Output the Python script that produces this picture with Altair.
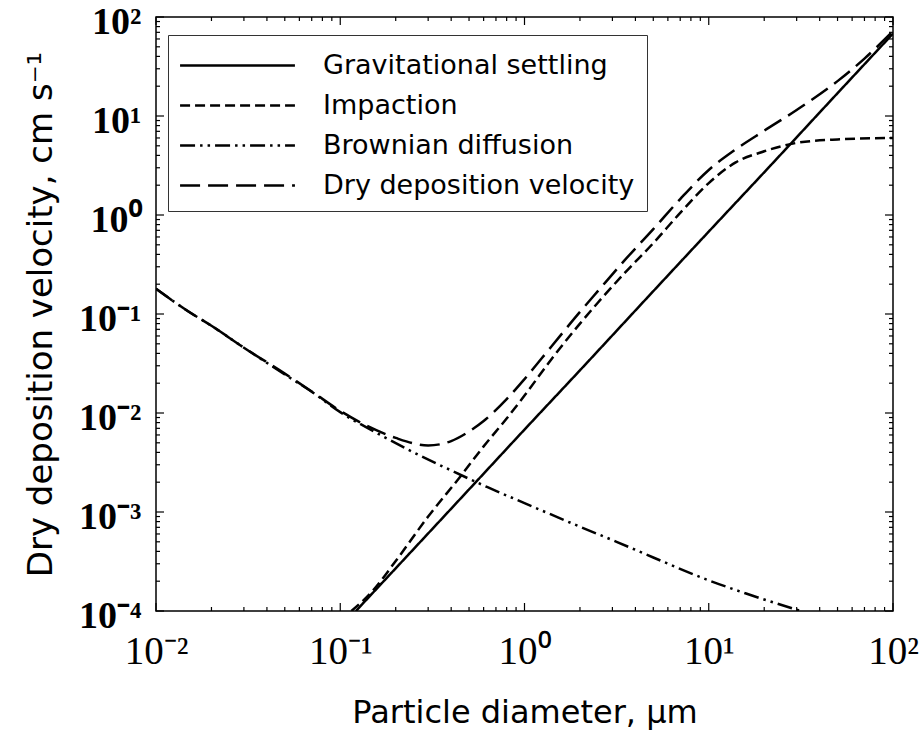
import altair as alt
import pandas as pd

# ---------------- data ----------------
series_names = ["Gravitational settling", "Impaction", "Brownian diffusion", "Dry deposition velocity"]
dash_patterns = [[1, 0], [10, 5], [15, 5, 2.5, 5, 2.5, 5], [20, 8]]

grav_d = [0.1216, 0.2, 0.5, 1.0, 2.0, 5.0, 10.0, 20.0, 50.0, 100.0]
grav_v = [1.0e-4, 2.7e-4, 1.69e-3, 6.8e-3, 0.027, 0.17, 0.68, 2.7, 17.0, 68.0]

imp_d = [0.115, 0.15, 0.2, 0.3, 0.45, 0.6, 0.8, 1.0, 1.4, 2.0, 2.5, 3.5, 5.0, 7.0, 10.0, 14.0, 20.0, 30.0, 50.0, 100.0]
imp_v = [1.0e-4, 1.6e-4, 3.2e-4, 9.0e-4, 2.3e-3, 4.6e-3, 8.8e-3, 0.015, 0.035, 0.08, 0.13, 0.26, 0.52, 1.05, 2.1, 3.4, 4.4, 5.35, 5.8, 6.0]

brown_d = [0.01, 0.015, 0.02, 0.03, 0.05, 0.07, 0.1, 0.16, 0.25, 0.4, 0.63, 1.0, 2.0, 3.16, 5.0, 10.0, 15.8, 31.6]
brown_v = [0.18, 0.106, 0.076, 0.0457, 0.0245, 0.0164, 0.0102, 6.2e-3, 4.0e-3, 2.63e-3, 1.78e-3, 1.23e-3, 7.1e-4, 5.0e-4, 3.47e-4, 2.04e-4, 1.51e-4, 1.0e-4]

dry_d = [0.01, 0.015, 0.02, 0.03, 0.05, 0.07, 0.1, 0.14, 0.2, 0.3, 0.4, 0.5, 0.6, 0.8, 1.0, 1.4, 2.0, 2.5, 3.5, 5.0, 7.0, 10.0, 14.0, 20.0, 30.0, 50.0, 70.0, 100.0]
dry_v = [0.18, 0.106, 0.076, 0.0457, 0.025, 0.0165, 0.0105, 0.0074, 0.0056, 0.0047, 0.0052, 0.0065, 0.0083, 0.0138, 0.022, 0.047, 0.105, 0.17, 0.35, 0.72, 1.45, 2.85, 4.6, 7.1, 11.5, 22.5, 38.0, 72.0]

x_major = [0.01, 0.1, 1.0, 10.0, 100.0]
x_major_labels = ["10⁻²", "10⁻¹", "10⁰", "10¹", "10²"]
y_major = [0.0001, 0.001, 0.01, 0.1, 1.0, 10.0, 100.0]
y_major_labels = ["10⁻⁴", "10⁻³", "10⁻²", "10⁻¹", "10⁰", "10¹", "10²"]
x_minor = [round(k * 10.0 ** e, 8) for e in range(-2, 2) for k in range(2, 10)]
y_minor = [round(k * 10.0 ** e, 8) for e in range(-4, 2) for k in range(2, 10)]

x_title = "Particle diameter, μm"
y_title = "Dry deposition velocity, cm s⁻¹"

# ---------------- tables ----------------
rows = []
for name, ds, vs in [
    (series_names[0], grav_d, grav_v),
    (series_names[1], imp_d, imp_v),
    (series_names[2], brown_d, brown_v),
    (series_names[3], dry_d, dry_v),
]:
    for d, v in zip(ds, vs):
        rows.append({"series": name, "d": d, "v": v})
df = pd.DataFrame(rows)

xmaj_df = pd.DataFrame({"t": x_major})
xmin_df = pd.DataFrame({"t": x_minor})
ymaj_df = pd.DataFrame({"t": y_major})
ymin_df = pd.DataFrame({"t": y_minor})


def label_expr(vals, labs):
    parts = [f"datum.value == {v} ? '{l}'" for v, l in zip(vals, labs)]
    return " : ".join(parts) + " : ''"


W, H = 737, 594
MAJ, MIN = 8, 4

xscale = alt.Scale(type="log", domain=[0.01, 100], nice=False)
yscale = alt.Scale(type="log", domain=[0.0001, 100], nice=False)
dash_scale = alt.Scale(domain=series_names, range=dash_patterns)

legend = alt.Legend(
    title=None, orient="none", legendX=12, legendY=18,
    symbolType="M-3.33,0H3.33", symbolSize=1190, symbolStrokeWidth=2.5,
    symbolStrokeColor="black", symbolOffset=39, labelOffset=67,
    labelFont="DejaVu Sans", labelFontSize=27, labelColor="black", labelLimit=0,
    padding=12, strokeColor="#333333", fillColor="white", rowPadding=8,
)

x_axis = alt.Axis(values=x_major, labelExpr=label_expr(x_major, x_major_labels),
                  ticks=False, tickSize=0, domain=False, grid=False,
                  labelPadding=21, labelFlush=False, labelOverlap=False,
                  labelFont="Liberation Serif", labelFontSize=39, labelColor="black",
                  title=x_title, titleFont="DejaVu Sans", titleFontSize=32, titleFontWeight="normal",
                  titleColor="black", titlePadding=26)
y_axis = alt.Axis(values=y_major, labelExpr=label_expr(y_major, y_major_labels),
                  ticks=False, tickSize=0, domain=False, grid=False,
                  labelPadding=15, labelFlush=False, labelOverlap=False, labelOffset=5,
                  labelFont="Liberation Serif", labelFontSize=38, labelFontWeight="bold",
                  labelColor="black",
                  title=y_title, titleFont="DejaVu Sans", titleFontSize=34, titleFontWeight="normal",
                  titleColor="black", titlePadding=20)

lines = (
    alt.Chart(df)
    .mark_line(color="black", strokeWidth=2.5, clip=True, interpolate="monotone")
    .encode(
        x=alt.X("d:Q", scale=xscale, axis=x_axis),
        y=alt.Y("v:Q", scale=yscale, axis=y_axis),
        strokeDash=alt.StrokeDash("series:N", scale=dash_scale, legend=legend),
        detail="series:N",
    )
)


def xticks(data, length):
    base = alt.Chart(data).mark_rule(color="black", strokeWidth=1.2)
    xenc = alt.X("t:Q", scale=xscale, axis=None)
    bottom = base.encode(x=xenc, y=alt.value(H), y2=alt.value(H - length))
    top = base.encode(x=xenc, y=alt.value(0), y2=alt.value(length))
    return [bottom, top]


def yticks(data, length):
    base = alt.Chart(data).mark_rule(color="black", strokeWidth=1.2)
    yenc = alt.Y("t:Q", scale=yscale, axis=None)
    left = base.encode(y=yenc, x=alt.value(0), x2=alt.value(length))
    right = base.encode(y=yenc, x=alt.value(W), x2=alt.value(W - length))
    return [left, right]


tick_layers = xticks(xmaj_df, MAJ) + xticks(xmin_df, MIN) + yticks(ymaj_df, MAJ) + yticks(ymin_df, MIN)

chart = (
    alt.layer(lines, *tick_layers)
    .resolve_axis(x="independent", y="independent")
    .properties(
        width=W, height=H,
        autosize=alt.AutoSizeParams(type="none"),
        padding={"left": 156, "top": 17, "right": 28, "bottom": 121},
    )
    .configure(background="white")
    .configure_view(stroke="black", strokeWidth=1.5)
)

chart.save("out.html", embed_options={"renderer": "svg", "actions": False})
